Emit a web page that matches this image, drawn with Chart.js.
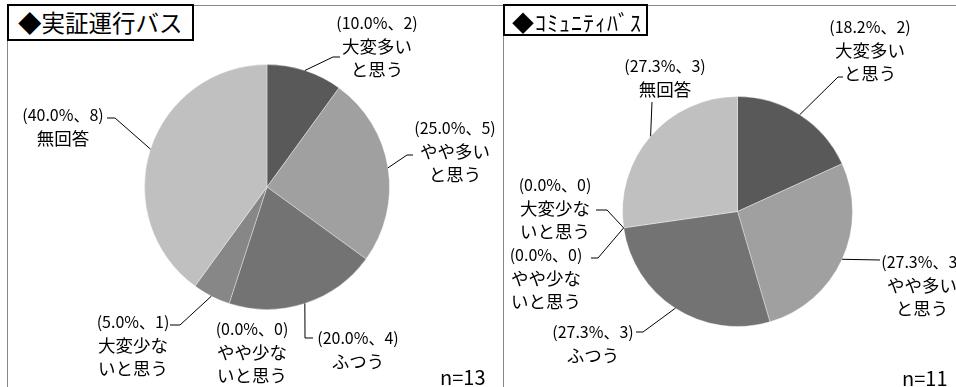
<!DOCTYPE html>
<html>
<head>
<meta charset="utf-8">
<script src="https://cdn.jsdelivr.net/npm/chart.js@4.4.1/dist/chart.umd.min.js"></script>
<style>
  body { margin: 0; background: #fff; }
  #wrap { position: relative; width: 956px; height: 387px; overflow: hidden; font-family: "Noto Sans CJK JP", sans-serif; }
  canvas { position: absolute; left: 0; top: 0; }
  .frame { position: absolute; background: #888; }
  .title { position: absolute; border: 2px solid #000; background: #fff; box-sizing: border-box; color: #000; white-space: nowrap; }
  .count { position: absolute; font-size: 20px; color: #000; }
</style>
</head>
<body>
<div id="wrap">
  <div class="frame" style="left:7px;top:5px;width:949px;height:1px"></div>
  <div class="frame" style="left:7px;top:5px;width:1px;height:382px"></div>
  <div class="frame" style="left:503px;top:5px;width:1px;height:382px"></div>
  <canvas id="busChart" width="956" height="387"></canvas>
  <canvas id="communityChart" width="956" height="387"></canvas>
  <div class="title" style="left:7px;top:4px;width:187px;height:37px;font-size:23.5px;line-height:33px;padding-left:9px">◆実証運行バス</div>
  <div class="title" style="left:503px;top:4px;width:145px;height:32px;font-size:22px;line-height:30px;padding-left:7px;letter-spacing:1px">◆ｺﾐｭﾆﾃｨﾊﾞｽ</div>
  <div class="count" style="left:440px;top:362px">n=13</div>
  <div class="count" style="left:902px;top:363px">n=11</div>
</div>
<script>
const categories = ['大変多いと思う', 'やや多いと思う', 'ふつう', 'やや少ないと思う', '大変少ないと思う', '無回答'];
const labelLines = [['大変多い', 'と思う'], ['やや多い', 'と思う'], ['ふつう'], ['やや少な', 'いと思う'], ['大変少な', 'いと思う'], ['無回答']];
const busCounts = [2, 5, 4, 0, 1, 8];
const communityCounts = [2, 3, 3, 0, 0, 3];
const sliceColors = ['#595959', '#a0a0a0', '#737373', '#7a7a7a', '#878787', '#c0c0c0'];

// where each label sits and the bends of its leader line
const busLabelPos = [
  { x: 377, y: 23, path: [[333, 57], [340, 57]] },
  { x: 455, y: 128, path: [[407, 155], [413, 155]] },
  { x: 358, y: 338, path: [[305, 338], [313, 338]] },
  { x: 252, y: 329, path: [] },
  { x: 133, y: 322, path: [[180, 325], [170, 325]] },
  { x: 63, y: 115, path: [[115, 118], [107, 118]] }
];
const communityLabelPos = [
  { x: 870, y: 27, path: [[838, 77], [843, 77]] },
  { x: 922, y: 262, path: [[880, 260]] },
  { x: 593, y: 332, path: [[643, 332], [636, 332]] },
  { x: 546, y: 255, path: [[598, 258], [591, 258]] },
  { x: 555, y: 185, path: [[607, 210], [596, 210]] },
  { x: 665, y: 66, path: [[652, 102]] }
];

const pieLabels = {
  id: 'pieLabels',
  afterDraw(chart, args, opts) {
    const ctx = chart.ctx;
    const values = chart.data.datasets[0].data;
    const total = values.reduce((a, b) => a + b, 0);
    const arcs = chart.getDatasetMeta(0).data;
    ctx.save();
    ctx.strokeStyle = '#000';
    ctx.lineWidth = 1;
    ctx.fillStyle = '#000';
    ctx.textAlign = 'center';
    ctx.textBaseline = 'middle';
    arcs.forEach((arc, i) => {
      const pos = opts.positions[i];
      const p = arc.getProps(['x', 'y', 'startAngle', 'endAngle', 'outerRadius'], true);
      const mid = (p.startAngle + p.endAngle) / 2;
      if (pos.path.length) {
        ctx.beginPath();
        ctx.moveTo(p.x + Math.cos(mid) * p.outerRadius, p.y + Math.sin(mid) * p.outerRadius);
        pos.path.forEach(pt => ctx.lineTo(pt[0], pt[1]));
        ctx.stroke();
      }
      const v = values[i];
      ctx.font = '16px "Noto Sans CJK JP"';
      ctx.fillText('(' + (v / total * 100).toFixed(1) + '%、' + v + ')', pos.x, pos.y);
      ctx.font = '17.5px "Noto Sans CJK JP"';
      labelLines[i].forEach((t, k) => ctx.fillText(t, pos.x, pos.y + (k + 1) * 23));
    });
    ctx.restore();
  }
};

function makePie(id, counts, positions, padding) {
  return new Chart(document.getElementById(id), {
    type: 'pie',
    data: {
      labels: categories,
      datasets: [{
        data: counts,
        backgroundColor: sliceColors,
        borderColor: 'rgba(255,255,255,0.35)',
        borderWidth: 1
      }]
    },
    options: {
      responsive: false,
      animation: false,
      layout: { padding: padding },
      plugins: {
        legend: { display: false },
        tooltip: { enabled: false },
        pieLabels: { positions: positions }
      }
    },
    plugins: [pieLabels]
  });
}

makePie('busChart', busCounts, busLabelPos, { left: 144, top: 64, right: 566, bottom: 77 });
makePie('communityChart', communityCounts, communityLabelPos, { left: 622, top: 96, right: 103, bottom: 60 });
</script>
</body>
</html>
